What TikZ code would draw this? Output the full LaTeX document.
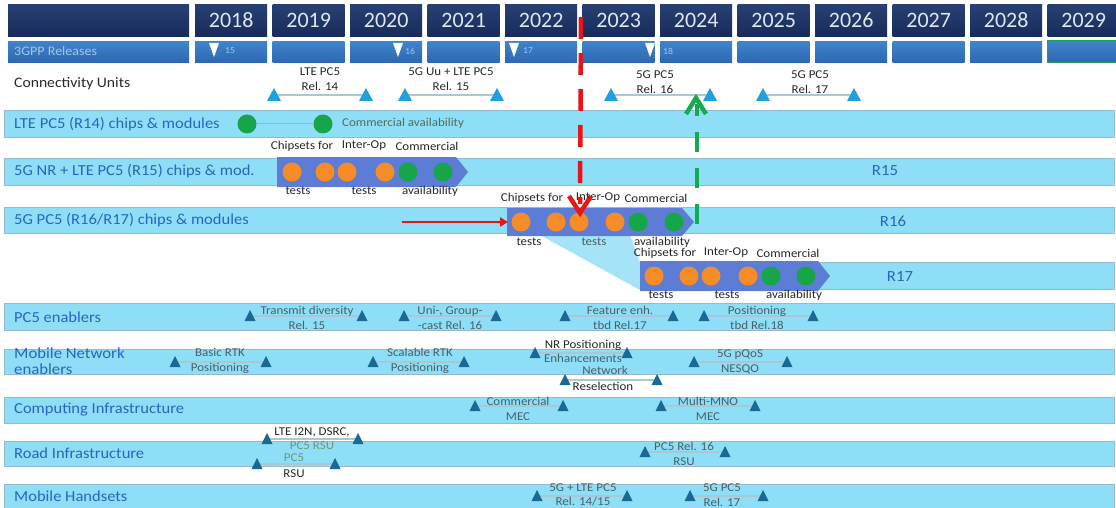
\documentclass[tikz,border=0pt]{standalone}
\usepackage{fontspec}
\setmainfont{Carlito}[FakeStretch=1.08]
\newfontfamily\yrfont{Carlito}
\usetikzlibrary{arrows.meta}
\definecolor{navyA}{RGB}{40,64,116}
\definecolor{navyB}{RGB}{24,44,90}
\definecolor{relA}{RGB}{64,132,204}
\definecolor{relB}{RGB}{44,104,178}
\definecolor{barc}{RGB}{143,222,248}
\definecolor{bard}{RGB}{150,185,205}
\definecolor{wedgec}{RGB}{165,228,248}
\definecolor{blockc}{RGB}{92,124,214}
\definecolor{dotor}{RGB}{245,140,40}
\definecolor{dotgr}{RGB}{22,165,72}
\definecolor{lblue}{RGB}{40,100,205}
\definecolor{tricy}{RGB}{30,160,222}
\definecolor{tridk}{RGB}{24,106,148}
\definecolor{intxt}{RGB}{72,96,104}
\definecolor{dk}{RGB}{40,40,40}
\definecolor{linec}{RGB}{170,200,212}
\definecolor{redc}{RGB}{235,20,20}
\definecolor{greenc}{RGB}{20,170,80}
\definecolor{yeartxt}{RGB}{222,230,242}
\definecolor{reltxt}{RGB}{160,198,236}
\definecolor{gbox}{RGB}{30,160,90}
\newcommand\mspan[4]{%
  \draw[spanline] (#1,#3) -- (#2,#3);
  \pic[#4] at (#1,#3) {tri};
  \pic[#4] at (#2,#3) {tri};}
\newcommand\sspan[4]{%
  \draw[spanline] (#1,#3) -- (#2,#3);
  \pic[#4] at (#1,#3) {trs};
  \pic[#4] at (#2,#3) {trs};}
\begin{document}
\begin{tikzpicture}[x=1pt,y=-1pt,
  tri/.pic={\path[pic actions] (-7,6) -- (7,6) -- (0,-7) -- cycle;},
  trs/.pic={\path[pic actions] (-5.5,5) -- (5.5,5) -- (0,-6) -- cycle;},
  dtri/.pic={\path[pic actions] (-5,-7) -- (5,-7) -- (0,7) -- cycle;},
  cyt/.style={fill=tricy},
  dkt/.style={fill=tridk},
  spanline/.style={draw=linec, line width=1.2pt},
  yearbox/.style={top color=navyA, bottom color=navyB, draw=none, minimum height=32pt, minimum width=72pt, anchor=north west, inner sep=0, text=yeartxt, font=\yrfont\fontsize{22}{24}\selectfont},
  relbox/.style={top color=relA, bottom color=relB, draw=none, minimum height=21pt, minimum width=72pt, anchor=north west, inner sep=0},
  bar/.style={fill=barc, draw=bard, line width=0.6pt},
  block/.style={fill=blockc},
  odot/.style={circle, fill=dotor, minimum size=19pt, inner sep=0},
  gdot/.style={circle, fill=dotgr, minimum size=19pt, inner sep=0},
  lbl/.style={anchor=west, text=lblue, inner sep=0, font=\fontsize{15.3}{16}\selectfont, align=left},
  rl/.style={text=lblue, inner sep=0, font=\fontsize{15.5}{17}\selectfont},
  small/.style={text=dk, inner sep=0, align=center, font=\fontsize{12}{14.5}\selectfont},
  itx/.style={text=intxt, inner sep=0, align=center, font=\fontsize{12}{14.5}\selectfont},
  reddash/.style={draw=redc, line width=4.5pt, dash pattern=on 22pt off 14pt},
  greendash/.style={draw=greenc, line width=4pt, dash pattern=on 20pt off 16pt},
]
\useasboundingbox (0,0) rectangle (1116,508);
% ---------- header ----------
\node[yearbox, minimum width=181pt] (hd) at (8,4) {};
\node[relbox, minimum width=181pt] (hr) at (8,41) {};
\node[anchor=west, inner sep=0, text=reltxt, font=\fontsize{13}{14}\selectfont] (hrt) at (14,51) {3GPP Releases};
\foreach \yr [count=\k from 0] in {2018,...,2029} {
  \pgfmathsetmacro\xl{195+77.5*\k}
  \node[yearbox] (y\yr) at (\xl,4) {\yr};
  \node[relbox] (r\yr) at (\xl,41) {};
}
\draw[gbox, line width=1pt] (r2029.north west) rectangle (r2029.south east);
\pic[fill=white] at (214,50) {dtri};
\pic[fill=white] at (398,50) {dtri};
\pic[fill=white] at (514,50) {dtri};
\pic[fill=white] at (650,50) {dtri};
\node[inner sep=0, text=reltxt, font=\fontsize{9}{10}\selectfont] (l15) at (230,51) {15};
\node[inner sep=0, text=reltxt, font=\fontsize{9}{10}\selectfont] (l16) at (410,51) {16};
\node[inner sep=0, text=reltxt, font=\fontsize{9}{10}\selectfont] (l17) at (528,51) {17};
\node[inner sep=0, text=reltxt, font=\fontsize{9}{10}\selectfont] (l18) at (668,51) {18};
% ---------- connectivity units ----------
\node[anchor=west, inner sep=0, text=dk, font=\fontsize{14.5}{16}\selectfont] (cu) at (14,84) {Connectivity Units};
\mspan{274}{366}{95}{cyt}
\node[small] (c14) at (320,79) {LTE PC5\\Rel. 14};
\mspan{405}{497}{95}{cyt}
\node[small] (c15) at (451,79) {5G Uu + LTE PC5\\Rel. 15};
\mspan{611}{710}{95}{cyt}
\node[small] (c16) at (655,82) {5G PC5\\Rel. 16};
\mspan{763}{854}{95}{cyt}
\node[small] (c17) at (810,82) {5G PC5\\Rel. 17};
% ---------- bars ----------
\draw[bar] (4,110) rectangle (1114,137);
\draw[bar] (4,158) rectangle (1114,185);
\draw[bar] (4,207) rectangle (1114,233);
\fill[wedgec] (540,235) -- (640,290) -- (640,262) -- (630,235) -- cycle;
\draw[bar] (640,262) rectangle (1114,289);
\draw[bar] (4,303) rectangle (1114,330);
\draw[bar] (4,349) rectangle (1114,374);
\draw[bar] (4,397) rectangle (1114,423);
\draw[bar] (4,441) rectangle (1114,466);
\draw[bar] (4,484) rectangle (1114,510);
% ---------- R14 ----------
\node[lbl] (n14) at (14,124) {LTE PC5 (R14) chips \& modules};
\node[gdot] (g14a) at (247,124) {};
\node[gdot] (g14b) at (323,124) {};
\draw[draw={rgb,255:red,120;green,200;blue,170}, line width=1pt] (g14a) -- (g14b);
\node[anchor=west, inner sep=0, text={rgb,255:red,80;green,110;blue,90}, font=\fontsize{12}{13}\selectfont] (ca14) at (342,123) {Commercial availability};
% ---------- R15 ----------
\node[lbl] (n15) at (14,171) {5G NR + LTE PC5 (R15) chips \& mod.};
\fill[block] (277,157) -- (456,157) -- (468,172) -- (456,187) -- (277,187) -- cycle;
\node[odot] (d15a) at (292,172) {};
\node[odot] (d15b) at (325,172) {};
\node[odot] (d15c) at (347,172) {};
\node[odot] (d15d) at (385,172) {};
\node[gdot] (d15e) at (408,172) {};
\node[gdot] (d15f) at (443,172) {};
\node[small] (a15a) at (302,146) {Chipsets for};
\node[small] (a15b) at (364,146) {Inter-Op};
\node[small] (a15c) at (427,146) {Commercial};
\node[small] (b15a) at (298,191) {tests};
\node[small] (b15b) at (364,191) {tests};
\node[small] (b15c) at (430,191) {availability};
\node[rl] (r15) at (885,171) {R15};
% ---------- R16 ----------
\node[lbl] (n16) at (14,220) {5G PC5 (R16/R17) chips \& modules};
\fill[block] (507,208) -- (682,208) -- (694,222) -- (682,236) -- (507,236) -- cycle;
\node[odot] (d16a) at (521,222) {};
\node[odot] (d16b) at (556,222) {};
\node[odot] (d16c) at (579,222) {};
\node[odot] (d16d) at (615,222) {};
\node[gdot] (d16e) at (638,222) {};
\node[gdot] (d16f) at (674,222) {};
\node[small] (a16a) at (532,198) {Chipsets for};
\node[small] (a16b) at (598,198) {Inter-Op};
\node[small] (a16c) at (656,198) {Commercial};
\node[small] (b16a) at (529,242) {tests};
\node[small, text=intxt] (b16b) at (594,242) {tests};
\node[small] (b16c) at (662,242) {availability};
\node[rl] (r16) at (893,221) {R16};
% ---------- R17 ----------
\fill[block] (640,261) -- (818,261) -- (830,276) -- (818,291) -- (640,291) -- cycle;
\node[odot] (d17a) at (654,276) {};
\node[odot] (d17b) at (689,276) {};
\node[odot] (d17c) at (711,276) {};
\node[odot] (d17d) at (748,276) {};
\node[gdot] (d17e) at (771,276) {};
\node[gdot] (d17f) at (806,276) {};
\node[small] (a17a) at (665,253) {Chipsets for};
\node[small] (a17b) at (726,253) {Inter-Op};
\node[small] (a17c) at (788,253) {Commercial};
\node[small] (b17a) at (661,295) {tests};
\node[small] (b17b) at (727,295) {tests};
\node[small] (b17c) at (794,295) {availability};
\node[rl] (r17) at (900,277) {R17};
% ---------- PC5 enablers ----------
\node[lbl] (npc) at (14,317) {PC5 enablers};
\sspan{250}{362}{316}{dkt}
\node[itx] (p1) at (307,318) {Transmit diversity\\Rel. 15};
\sspan{404}{496}{316}{dkt}
\node[itx] (p2) at (450,318) {Uni-, Group-\\-cast Rel. 16};
\sspan{565}{673}{316}{dkt}
\node[itx] (p3) at (620,318) {Feature enh.\\tbd Rel.17};
\sspan{704}{813}{316}{dkt}
\node[itx] (p4) at (757,318) {Positioning\\tbd Rel.18};
% ---------- Mobile network enablers ----------
\node[lbl, font=\fontsize{15.5}{15.5}\selectfont] (nmn) at (14,361) {Mobile Network\\enablers};
\sspan{175}{266}{362}{dkt}
\node[itx] (m1) at (220,361) {Basic RTK\\Positioning};
\sspan{373}{464}{362}{dkt}
\node[itx] (m2) at (420,361) {Scalable RTK\\Positioning};
\sspan{535}{627}{353}{dkt}
\node[small] (m3a) at (583,345) {NR Positioning};
\node[itx] (m3b) at (583,358) {Enhancements};
\sspan{694}{787}{362}{dkt}
\node[itx] (m4) at (740,362) {5G pQoS\\NESQO};
\sspan{565}{657}{380}{dkt}
\node[itx] (m5a) at (605,370) {Network};
\node[small] (m5b) at (603,386) {Reselection};
% ---------- Computing ----------
\node[lbl] (nci) at (14,410) {Computing Infrastructure};
\sspan{475}{563}{406}{dkt}
\node[itx] (k1) at (518,409) {Commercial\\MEC};
\sspan{661}{755}{406}{dkt}
\node[itx] (k2) at (708,409) {Multi-MNO\\MEC};
% ---------- Road ----------
\node[lbl] (nri) at (14,453) {Road Infrastructure};
\sspan{267}{358}{439}{dkt}
\node[small] (q1a) at (312,432) {LTE I2N, DSRC,};
\node[itx, text={rgb,255:red,110;green,150;blue,120}] (q1b) at (312,446) {PC5 RSU};
\sspan{257}{335}{464}{dkt}
\node[itx, text={rgb,255:red,110;green,150;blue,120}] (q2a) at (294,458) {PC5};
\node[small] (q2b) at (294,474) {RSU};
\sspan{645}{725}{452}{dkt}
\node[itx] (q3) at (684,454) {PC5 Rel. 16\\RSU};
% ---------- Handsets ----------
\node[lbl] (nmh) at (14,496) {Mobile Handsets};
\sspan{537}{627}{496}{dkt}
\node[itx] (h1) at (583,495) {5G + LTE PC5\\Rel. 14/15};
\sspan{690}{763}{496}{dkt}
\node[itx] (h2) at (722,495) {5G PC5\\Rel. 17};
% ---------- red / green markers ----------
\coordinate (ra) at (402,222);
\coordinate (rb) at (508,222);
\draw[redc, line width=2.5pt, -{Triangle[length=8pt,width=9pt]}] (ra) -- (rb);
\coordinate (rt) at (581,17);
\coordinate (rv) at (580,213);
\draw[reddash] (rt) -- (580,204);
\draw[redc, line width=4.5pt, line join=miter] (569,196) -- (rv) -- (591,196);
\coordinate (gb) at (697,224);
\coordinate (gt) at (696,98);
\draw[greendash] (gb) -- (697,104);
\draw[greenc, line width=4.5pt, line join=miter] (686,114) -- (gt) -- (706,114);
\end{tikzpicture}
\end{document}
